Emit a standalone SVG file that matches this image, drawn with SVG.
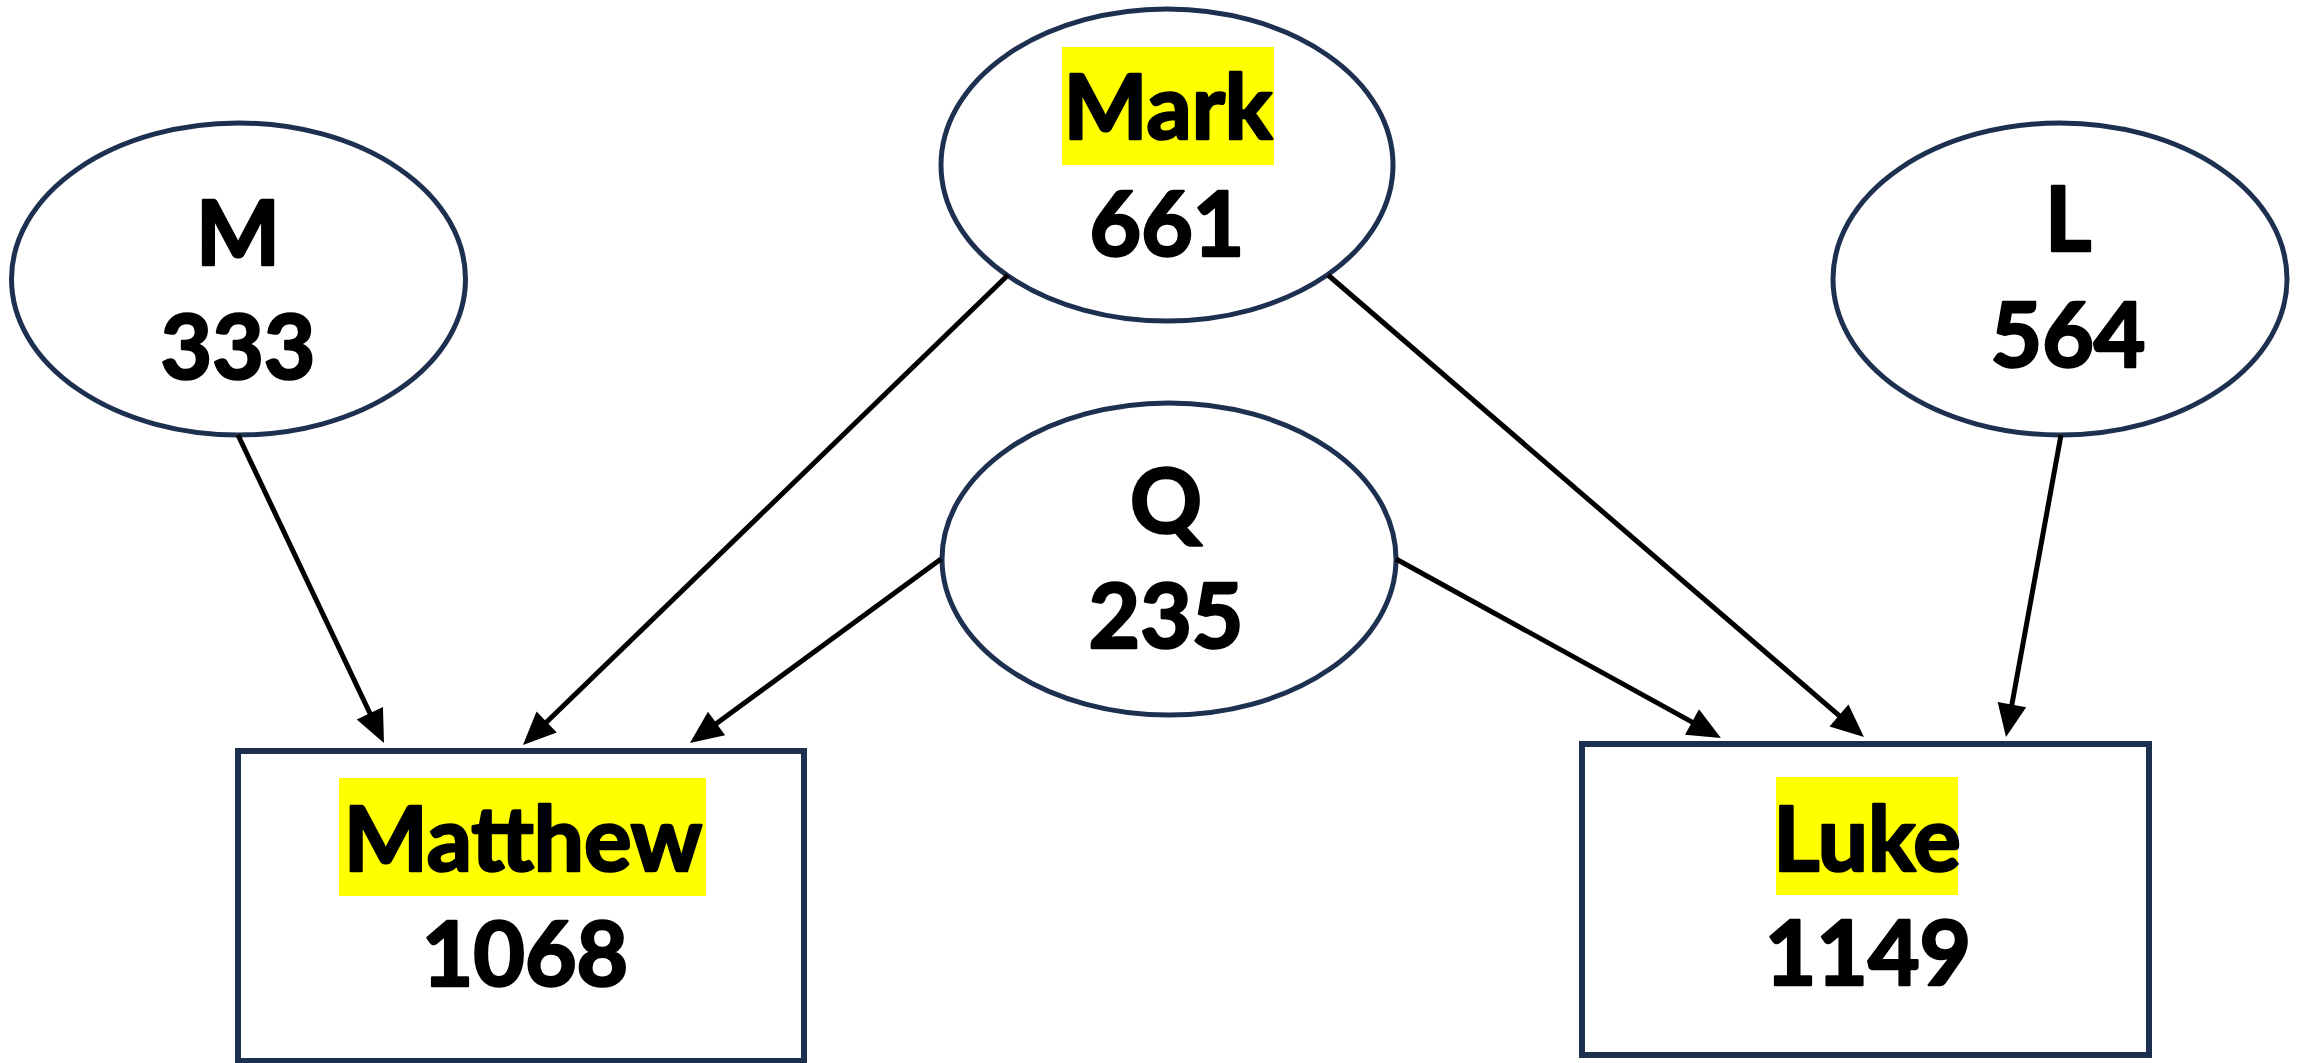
<svg xmlns="http://www.w3.org/2000/svg" width="2302" height="1063" viewBox="0 0 2302 1063">
  <style>
    .src { fill: #ffffff; stroke: #1e3050; stroke-width: 5; }
    .dst { fill: #ffffff; stroke: #1e3050; stroke-width: 6; }
    .hl { fill: #ffff00; }
    .lbl { font-family: Lato, "Liberation Sans", sans-serif; font-weight: bold; font-size: 89px; fill: #000000; stroke: #000000; stroke-width: 2.6; stroke-linejoin: round; text-anchor: middle; }
    .edge { stroke: #000000; stroke-width: 5; fill: none; marker-end: url(#head); }
  </style>
  <defs>
    <marker id="head" markerUnits="userSpaceOnUse" markerWidth="33" markerHeight="29" refX="9" refY="14.5" orient="auto" overflow="visible">
      <path d="M0,0 L33,14.5 L0,29 Z" fill="#000000"/>
    </marker>
  </defs>
  <rect width="2302" height="1063" fill="#ffffff"/>

  <!-- source nodes -->
  <g id="node-mark">
    <ellipse class="src" cx="1167" cy="165" rx="226" ry="156"/>
    <rect class="hl" x="1062" y="47" width="212" height="118"/>
    <text class="lbl" x="1168" y="139">Mark</text>
    <text class="lbl" x="1167" y="256">661</text>
  </g>
  <g id="node-m">
    <ellipse class="src" cx="238.5" cy="279" rx="227" ry="156"/>
    <text class="lbl" x="238" y="265">M</text>
    <text class="lbl" x="238" y="379">333</text>
  </g>
  <g id="node-l">
    <ellipse class="src" cx="2060" cy="279" rx="227" ry="156"/>
    <text class="lbl" x="2068" y="251">L</text>
    <text class="lbl" x="2068" y="367">564</text>
  </g>
  <g id="node-q">
    <ellipse class="src" cx="1169" cy="559" rx="227" ry="156"/>
    <text class="lbl" x="1166" y="533">Q</text>
    <text class="lbl" x="1166" y="648">235</text>
  </g>

  <!-- target gospels -->
  <g id="node-matthew">
    <rect class="dst" x="238" y="751" width="566" height="310"/>
    <rect class="hl" x="339" y="778" width="367" height="118"/>
    <text class="lbl" x="523" y="871">Matthew</text>
    <text class="lbl" x="525" y="986">1068</text>
  </g>
  <g id="node-luke">
    <rect class="dst" x="1582" y="744" width="567" height="311"/>
    <rect class="hl" x="1776" y="777" width="182" height="118"/>
    <text class="lbl" x="1867" y="871">Luke</text>
    <text class="lbl" x="1868" y="985">1149</text>
  </g>

  <!-- dependencies -->
  <g id="connectors">
    <line class="edge" x1="238" y1="435" x2="373.7" y2="721.3"/>
    <line class="edge" x1="1008" y1="275" x2="540.2" y2="728.3"/>
    <line class="edge" x1="941" y1="559" x2="709.3" y2="728.8"/>
    <line class="edge" x1="1396" y1="559" x2="1699.9" y2="726.4"/>
    <line class="edge" x1="1328" y1="275" x2="1845.8" y2="721.3"/>
    <line class="edge" x1="2061" y1="435" x2="2010.3" y2="713.4"/>
  </g>
</svg>
